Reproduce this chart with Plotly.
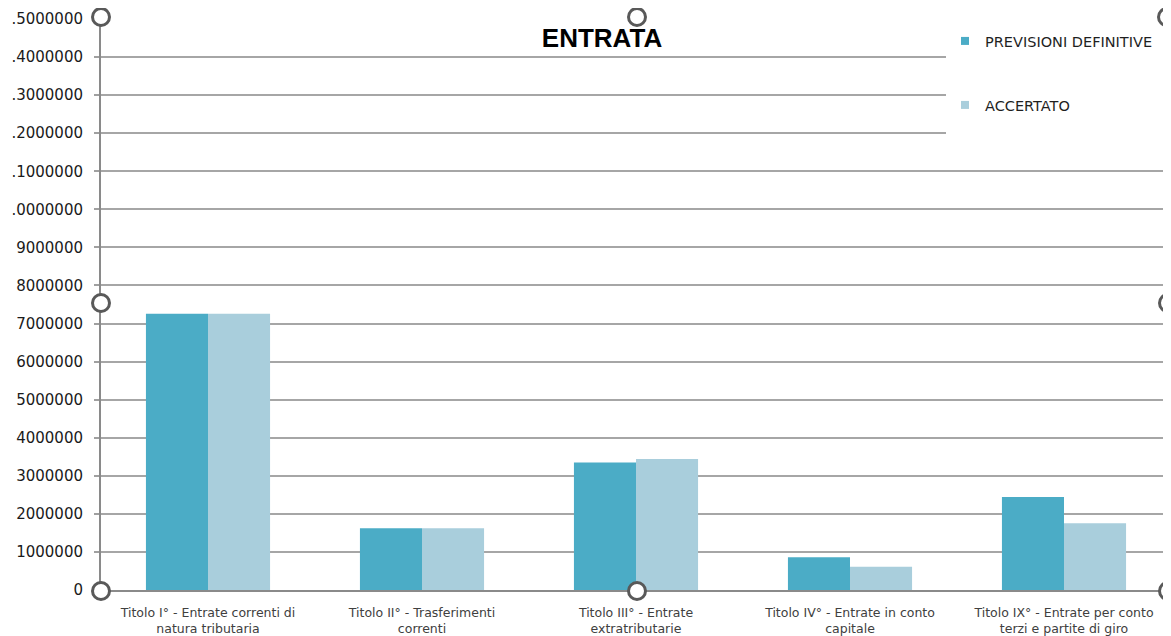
import plotly.graph_objects as go

categories = [
    "Titolo I° - Entrate correnti di<br>natura tributaria",
    "Titolo II° - Trasferimenti<br>correnti",
    "Titolo III° - Entrate<br>extratributarie",
    "Titolo IV° - Entrate in conto<br>capitale",
    "Titolo IX° - Entrate per conto<br>terzi e partite di giro",
]
previsioni_definitive = [7260000, 1620000, 3350000, 860000, 2440000]
accertato = [7260000, 1620000, 3440000, 610000, 1755000]

y_tick_values = [0, 1000000, 2000000, 3000000, 4000000, 5000000, 6000000, 7000000,
                 8000000, 9000000, 10000000, 11000000, 12000000, 13000000, 14000000, 15000000]
y_tick_labels = ["0", "1000000", "2000000", "3000000", "4000000", "5000000", "6000000",
                 "7000000", "8000000", "9000000", ".0000000", ".1000000", ".2000000",
                 ".3000000", ".4000000", ".5000000"]

series_names = ["PREVISIONI DEFINITIVE", "ACCERTATO"]
colors = ["#4BACC6", "#A9CEDC"]

OFF = 8  # page body margin
W, H = 1171 - OFF, 636 - OFF
ML, MR, MT, MB = 101 - OFF, 0, 19 - OFF, 46
PW, PH = W - ML - MR, H - MT - MB

def px_x(p):
    return (p - OFF - ML) / PW

def px_y(p):
    return (H - MB - (p - OFF)) / PH

fig = go.Figure()
fig.add_trace(go.Bar(x=categories, y=previsioni_definitive, name=series_names[0],
                     marker=dict(color=colors[0], line=dict(width=0)), showlegend=False))
fig.add_trace(go.Bar(x=categories, y=accertato, name=series_names[1],
                     marker=dict(color=colors[1], line=dict(width=0)), showlegend=False))
# legend entries
fig.add_trace(go.Scatter(x=[None], y=[None], mode="markers", name=series_names[0],
                         marker=dict(symbol="square", size=8, color=colors[0]), legend="legend"))
fig.add_trace(go.Scatter(x=[None], y=[None], mode="markers", name=series_names[1],
                         marker=dict(symbol="square", size=8, color=colors[1]), legend="legend2"))

legend_font = dict(family="DejaVu Sans", size=14.5, color="#1f1f1f")
fig.update_layout(
    width=W, height=H,
    margin=dict(l=ML, r=MR, t=MT, b=MB, pad=0),
    paper_bgcolor="white", plot_bgcolor="white",
    barmode="group", bargap=0.42, bargroupgap=0,
    title=dict(text="<b>ENTRATA</b>", x=(602 - OFF) / W, xref="container", xanchor="center",
               y=1 - (38 - OFF) / H, yref="container", yanchor="middle",
               font=dict(family="Liberation Sans", size=26, color="#000000")),
    legend=dict(x=px_x(945), y=px_y(41), xanchor="left", yanchor="middle",
                bgcolor="rgba(0,0,0,0)", font=legend_font, borderwidth=0),
    legend2=dict(x=px_x(945), y=px_y(105), xanchor="left", yanchor="middle",
                 bgcolor="rgba(0,0,0,0)", font=legend_font, borderwidth=0),
    xaxis=dict(showline=True, linecolor="#8a8a8a", linewidth=2, ticks="",
               ticklabelstandoff=10,
               tickfont=dict(family="DejaVu Sans", size=12.5, color="#404040"),
               showgrid=False, fixedrange=True),
    yaxis=dict(range=[0, 15000000], tickvals=y_tick_values, ticktext=y_tick_labels,
               showline=True, linecolor="#8a8a8a", linewidth=2,
               ticks="outside", ticklen=5, tickcolor="#a0a0a0", tickwidth=1.5,
               ticklabelstandoff=8,
               showgrid=True, gridcolor="#a6a6a6", gridwidth=1.5, zeroline=False,
               tickfont=dict(family="DejaVu Sans", size=15, color="#1a1a1a"),
               fixedrange=True),
)

shapes = []
# white area behind the legend
shapes.append(dict(type="rect", xref="paper", yref="paper",
                   x0=px_x(946), x1=1.01, y0=px_y(140), y1=px_y(21),
                   fillcolor="white", line=dict(width=0), layer="above"))
# selection handles
handles = [(101, 17), (637, 17), (1167, 17), (101, 303), (1168, 303),
           (101, 591), (637, 591), (1168, 591)]
for hx, hy in handles:
    shapes.append(dict(type="circle", xref="paper", yref="paper",
                       xsizemode="pixel", ysizemode="pixel",
                       xanchor=px_x(hx), yanchor=px_y(hy),
                       x0=-8.5, x1=8.5, y0=-8.5, y1=8.5,
                       fillcolor="white", line=dict(color="#595959", width=3),
                       layer="above"))
fig.update_layout(shapes=shapes)

fig.write_html("out.html")
